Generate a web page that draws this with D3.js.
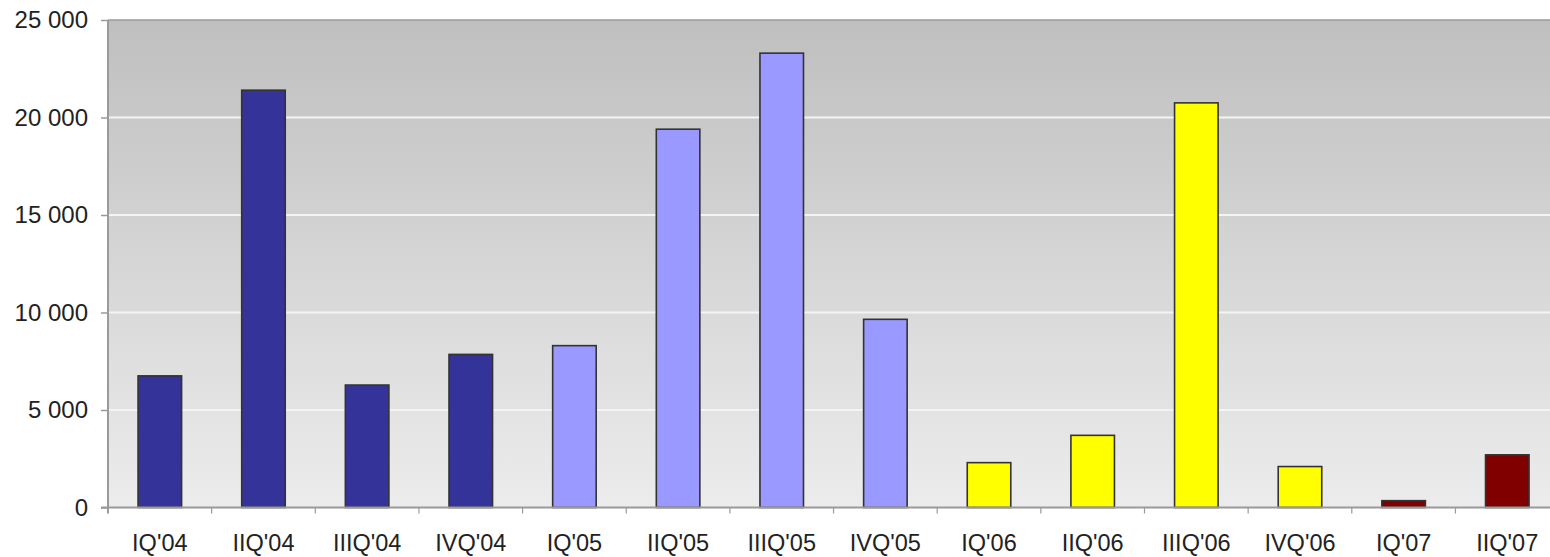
<!DOCTYPE html>
<html>
<head>
<meta charset="utf-8">
<script src="https://cdn.jsdelivr.net/npm/d3@7"></script>
<style>
  html, body { margin: 0; padding: 0; background: #ffffff; }
  svg { display: block; }
  text { font-family: "Liberation Sans", Arial, sans-serif; fill: #222; }
</style>
</head>
<body>
<svg id="chart" width="1550" height="557"></svg>
<script>
// Quarterly values
const categories = ["IQ'04", "IIQ'04", "IIIQ'04", "IVQ'04",
                    "IQ'05", "IIQ'05", "IIIQ'05", "IVQ'05",
                    "IQ'06", "IIQ'06", "IIIQ'06", "IVQ'06",
                    "IQ'07", "IIQ'07"];
const values = [6750, 21400, 6280, 7850,
                8300, 19400, 23300, 9650,
                2300, 3700, 20750, 2100,
                350, 2700];
// year of each quarter decides the bar colour
const years = ["2004", "2004", "2004", "2004",
               "2005", "2005", "2005", "2005",
               "2006", "2006", "2006", "2006",
               "2007", "2007"];
const yearColors = { "2004": "#333399", "2005": "#9999ff", "2006": "#ffff00", "2007": "#800000" };
const yTicks = [0, 5000, 10000, 15000, 20000, 25000];

const svg = d3.select("#chart");
const plotLeft = 108, plotTop = 20, plotBottom = 507.5;
const step = 103.65;
const plotRight = plotLeft + step * categories.length;

const x = d3.scaleBand().domain(categories).range([plotLeft, plotRight]).padding(0);
const y = d3.scaleLinear().domain([0, 25000]).range([plotBottom, plotTop]);

// plot background: vertical grey gradient
const defs = svg.append("defs");
const grad = defs.append("linearGradient")
  .attr("id", "bg").attr("x1", 0).attr("y1", 0).attr("x2", 0).attr("y2", 1);
grad.append("stop").attr("offset", "0%").attr("stop-color", "#bfbfbf");
grad.append("stop").attr("offset", "55%").attr("stop-color", "#d8d8d8");
grad.append("stop").attr("offset", "100%").attr("stop-color", "#ececec");

svg.append("rect")
  .attr("x", plotLeft).attr("y", plotTop)
  .attr("width", plotRight - plotLeft).attr("height", plotBottom - plotTop)
  .attr("fill", "url(#bg)");

// major gridlines
svg.append("g").selectAll("line")
  .data(yTicks.filter(t => t > 0 && t < 25000))
  .join("line")
  .attr("x1", plotLeft).attr("x2", plotRight)
  .attr("y1", d => y(d)).attr("y2", d => y(d))
  .attr("stroke", "#f4f4f4").attr("stroke-width", 2);

// plot top border
svg.append("line")
  .attr("x1", plotLeft).attr("x2", plotRight)
  .attr("y1", y(25000)).attr("y2", y(25000))
  .attr("stroke", "#9a9a9a").attr("stroke-width", 1.5);

// bars
const barRatio = 0.42;
const bw = x.bandwidth() * barRatio;
svg.append("g").selectAll("rect")
  .data(categories)
  .join("rect")
  .attr("x", (d) => x(d) + (x.bandwidth() - bw) / 2)
  .attr("y", (d, i) => y(values[i]))
  .attr("width", bw)
  .attr("height", (d, i) => y(0) - y(values[i]))
  .attr("fill", (d, i) => yearColors[years[i]])
  .attr("stroke", "#333333")
  .attr("stroke-width", 1.6);

// y axis
const yAxis = d3.axisLeft(y).tickValues(yTicks).tickSize(7).tickPadding(13)
  .tickFormat(d => d3.format(",")(d).replace(",", " "));
const gy = svg.append("g").attr("transform", `translate(${plotLeft},0)`).call(yAxis);
gy.select(".domain").remove();
gy.selectAll(".tick line").attr("stroke", "#9a9a9a").attr("stroke-width", 1.5);
gy.selectAll(".tick text").attr("font-size", 24).attr("fill", "#222")
  .attr("font-family", "'Liberation Sans', Arial, sans-serif");
svg.append("line")
  .attr("x1", plotLeft).attr("x2", plotLeft)
  .attr("y1", plotTop).attr("y2", plotBottom + 6)
  .attr("stroke", "#9a9a9a").attr("stroke-width", 2);

// x axis
svg.append("line")
  .attr("x1", plotLeft - 7).attr("x2", plotRight)
  .attr("y1", plotBottom).attr("y2", plotBottom)
  .attr("stroke", "#9a9a9a").attr("stroke-width", 2);
svg.append("g").selectAll("line")
  .data(categories.slice(1))
  .join("line")
  .attr("x1", d => x(d)).attr("x2", d => x(d))
  .attr("y1", plotBottom).attr("y2", plotBottom + 6)
  .attr("stroke", "#9a9a9a").attr("stroke-width", 1.2);
svg.append("g").selectAll("text")
  .data(categories)
  .join("text")
  .attr("x", d => x(d) + x.bandwidth() / 2)
  .attr("y", 551)
  .attr("text-anchor", "middle")
  .attr("font-size", 23.5)
  .text(d => d);
</script>
</body>
</html>
